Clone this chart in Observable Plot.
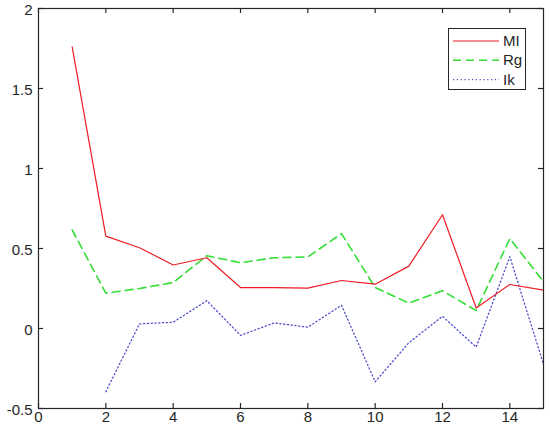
<!DOCTYPE html>
<html>
<head>
<meta charset="utf-8">
<script src="https://cdn.jsdelivr.net/npm/d3@7"></script>
<script src="https://cdn.jsdelivr.net/npm/@observablehq/plot@0.6"></script>
<style>
  body { margin: 0; background: #fff; }
  #wrap { position: relative; width: 550px; height: 435px; }
  #legend { position: absolute; left: 0; top: 0; }
</style>
</head>
<body>
<div id="wrap"></div>
<script>
const xs = [1, 2, 3, 4, 5, 6, 7, 8, 9, 10, 11, 12, 13, 14, 15];
const mI = [1.76, 0.577, 0.505, 0.397, 0.442, 0.256, 0.255, 0.252, 0.30, 0.277, 0.39, 0.711, 0.128, 0.275, 0.24];
const rg = [0.616, 0.221, 0.25, 0.287, 0.455, 0.411, 0.442, 0.447, 0.593, 0.256, 0.159, 0.236, 0.112, 0.562, 0.293];
const ik = [null, -0.395, 0.029, 0.039, 0.174, -0.043, 0.035, 0.008, 0.145, -0.333, -0.089, 0.076, -0.116, 0.449, -0.223];
const seriesNames = ["MI", "Rg", "Ik"];
const xTicks = [0, 2, 4, 6, 8, 10, 12, 14];
const yTicks = [-0.5, 0, 0.5, 1, 1.5, 2];

const colors = {MI: "#ee1c24", Rg: "#33dd33", Ik: "#5050c8"};
const dashes = {MI: null, Rg: "8,5", Ik: "1.2,2.6"};
const widths = {MI: 1.2, Rg: 1.6, Ik: 1.3};

const toRows = (name, vals) => xs.map((x, i) => ({x, y: vals[i], name}));
const rowsMI = toRows("MI", mI), rowsRg = toRows("Rg", rg), rowsIk = toRows("Ik", ik);

const axisColor = "#262626";
const font = "Liberation Sans, Arial, sans-serif";
const W = 550, H = 435, mL = 38, mR = 7, mT = 8, mB = 27;
const plotW = W - mL - mR, plotH = H - mT - mB, tick = 5;
const fmt = d => String(d);
const fs = 15;

const chart = Plot.plot({
  width: W,
  height: H,
  marginLeft: mL,
  marginRight: mR,
  marginTop: mT,
  marginBottom: mB,
  style: {fontFamily: font, fontSize: fs + "px", color: axisColor, background: "#fff"},
  x: {domain: [0, 15]},
  y: {domain: [-0.5, 2]},
  marks: [
    Plot.line(rowsRg, {x: "x", y: "y", stroke: colors.Rg, strokeWidth: widths.Rg, strokeDasharray: dashes.Rg}),
    Plot.line(rowsIk, {x: "x", y: "y", stroke: colors.Ik, strokeWidth: widths.Ik, strokeDasharray: dashes.Ik}),
    Plot.line(rowsMI, {x: "x", y: "y", stroke: colors.MI, strokeWidth: widths.MI}),
    Plot.frame({stroke: axisColor, strokeWidth: 1.2}),
    // inward ticks on all four sides
    Plot.tickX(xTicks, {x: d => d, stroke: axisColor, strokeWidth: 1.2, insetTop: plotH - tick}),
    Plot.tickX(xTicks, {x: d => d, stroke: axisColor, strokeWidth: 1.2, insetBottom: plotH - tick}),
    Plot.tickY(yTicks, {y: d => d, stroke: axisColor, strokeWidth: 1.2, insetRight: plotW - tick}),
    Plot.tickY(yTicks, {y: d => d, stroke: axisColor, strokeWidth: 1.2, insetLeft: plotW - tick}),
    Plot.axisX({anchor: "bottom", ticks: xTicks, tickSize: 0, tickPadding: 3, tickFormat: fmt, label: null, fill: axisColor, fontSize: fs}),
    Plot.axisY({anchor: "left", ticks: yTicks, tickSize: 0, tickPadding: 6, dy: 1.5, tickFormat: fmt, label: null, fill: axisColor, fontSize: fs})
  ]
});
const wrap = document.getElementById("wrap");
wrap.appendChild(chart);

// Legend box (MATLAB style, inside the axes, top-right)
const ns = "http://www.w3.org/2000/svg";
const leg = document.createElementNS(ns, "svg");
leg.setAttribute("id", "legend");
leg.setAttribute("width", W);
leg.setAttribute("height", H);
const box = document.createElementNS(ns, "rect");
box.setAttribute("x", 448.5); box.setAttribute("y", 28.5);
box.setAttribute("width", 77); box.setAttribute("height", 61);
box.setAttribute("fill", "#fff"); box.setAttribute("stroke", axisColor); box.setAttribute("stroke-width", 1);
leg.appendChild(box);
seriesNames.forEach((name, i) => {
  const yy = 41 + i * 19.3;
  const ln = document.createElementNS(ns, "line");
  ln.setAttribute("x1", 453); ln.setAttribute("x2", 499);
  ln.setAttribute("y1", yy); ln.setAttribute("y2", yy);
  ln.setAttribute("stroke", colors[name]);
  ln.setAttribute("stroke-width", widths[name]);
  if (dashes[name]) ln.setAttribute("stroke-dasharray", dashes[name]);
  leg.appendChild(ln);
  const t = document.createElementNS(ns, "text");
  t.setAttribute("x", 503); t.setAttribute("y", yy + 5);
  t.setAttribute("font-family", font); t.setAttribute("font-size", fs);
  t.setAttribute("fill", axisColor);
  t.textContent = name;
  leg.appendChild(t);
});
wrap.appendChild(leg);
</script>
</body>
</html>
